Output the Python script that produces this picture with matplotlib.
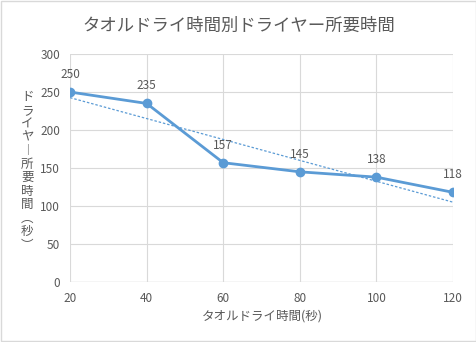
import numpy as np
import matplotlib.pyplot as plt

plt.rcParams['font.family'] = ['Noto Sans CJK JP', 'DejaVu Sans']

# data
dry_time = [20, 40, 60, 80, 100, 120]
dryer_time = [250, 235, 157, 145, 138, 118]
y_ticks = [0, 50, 100, 150, 200, 250, 300]

title = 'タオルドライ時間別ドライヤー所要時間'
xlabel = 'タオルドライ時間(秒)'
ylabel_chars = ['ド', 'ラ', 'イ', 'ヤ', '︱', '所', '要', '時', '間', '︵', '秒', '︶']

blue = '#5B9BD5'
gray_txt = '#595959'
grid_c = '#D9D9D9'

fig = plt.figure(figsize=(4.77, 3.42), dpi=100)
ax = fig.add_axes([0.1468, 0.1754, 0.8029, 0.6666])

ax.plot(dry_time, dryer_time, color=blue, lw=2, marker='o', ms=6, zorder=3)

# linear trendline
coef = np.polyfit(dry_time, dryer_time, 1)
xs = np.array([dry_time[0], dry_time[-1]])
ax.plot(xs, np.polyval(coef, xs), color=blue, lw=0.9, ls=(0, (2, 1.5)), zorder=2)

for x, y in zip(dry_time, dryer_time):
    ax.annotate(str(y), (x, y), xytext=(0, 8), textcoords='offset points',
                ha='center', va='bottom', fontsize=8.5, color=gray_txt)

ax.set_xlim(20, 120)
ax.set_ylim(0, 300)
ax.set_xticks(dry_time)
ax.set_yticks(y_ticks)
ax.grid(True, color=grid_c, lw=0.8)
ax.set_axisbelow(True)
for s in ax.spines.values():
    s.set_visible(False)
ax.tick_params(length=0, labelsize=8.5, labelcolor=gray_txt, pad=7)
ax.axhline(0, color=grid_c, lw=1, zorder=1)

fig.text(0.5, 0.925, title, ha='center', va='center', fontsize=12.5, color=gray_txt)
fig.text(0.549, 0.077, xlabel, ha='center', va='center', fontsize=9, color=gray_txt)
fig.text(0.057, 0.5, '\n'.join(ylabel_chars), ha='center', va='center', fontsize=9,
         color=gray_txt, linespacing=1.05)

# chart border
fig.add_artist(plt.Rectangle((0.002, 0.003), 0.996, 0.994, transform=fig.transFigure,
                             fill=False, edgecolor='#D9D9D9', lw=1))

fig.savefig('out.png', dpi=100)
